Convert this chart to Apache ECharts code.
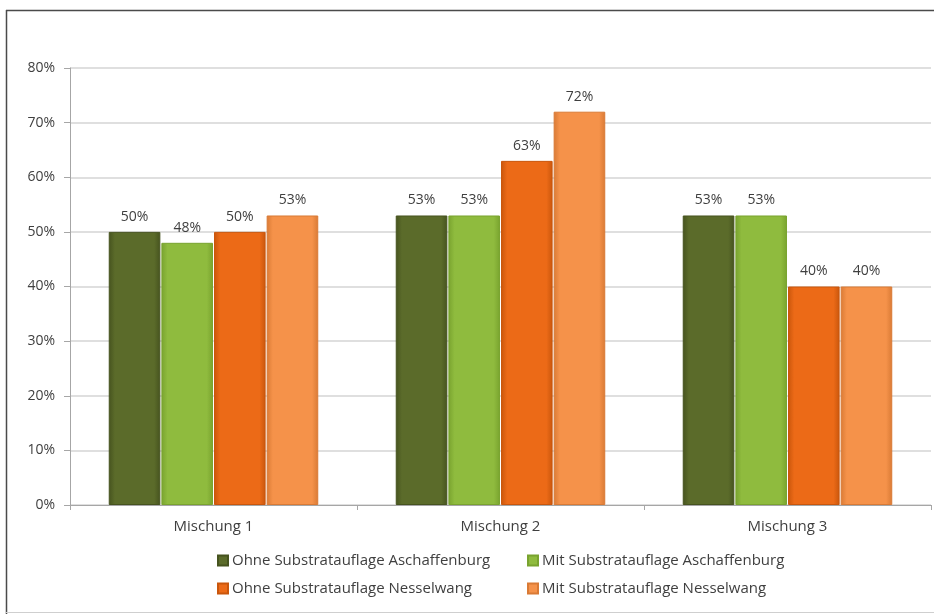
<!DOCTYPE html>
<html>
<head>
<meta charset="utf-8">
<script src="https://cdn.jsdelivr.net/npm/echarts@6/dist/echarts.min.js"></script>
<style>
html,body{margin:0;padding:0;background:#fff;}
#chart{width:934px;height:614px;}
</style>
</head>
<body>
<div id="chart"></div>
<script>
const categories = ['Mischung 1', 'Mischung 2', 'Mischung 3'];
const seriesNames = [
  'Ohne Substratauflage Aschaffenburg',
  'Mit Substratauflage Aschaffenburg',
  'Ohne Substratauflage Nesselwang',
  'Mit Substratauflage Nesselwang'
];
const ohneAschaffenburg = [0.50, 0.53, 0.53];
const mitAschaffenburg = [0.48, 0.53, 0.53];
const ohneNesselwang = [0.50, 0.63, 0.40];
const mitNesselwang = [0.53, 0.72, 0.40];
const yTicks = [0, 0.1, 0.2, 0.3, 0.4, 0.5, 0.6, 0.7, 0.8];

const seriesValues = [ohneAschaffenburg, mitAschaffenburg, ohneNesselwang, mitNesselwang];
const baseColors = ['#5b6b2a', '#8fbb3e', '#ec6a17', '#f5924a'];
const edgeColors = ['#46531f', '#79a32f', '#c9560c', '#d97a35'];
const font = 'Open Sans';

function grad(i) {
  return new echarts.graphic.LinearGradient(0, 0, 1, 0, [
    {offset: 0, color: edgeColors[i]},
    {offset: 0.12, color: baseColors[i]},
    {offset: 0.88, color: baseColors[i]},
    {offset: 1, color: edgeColors[i]}
  ]);
}

const legendPos = [
  {left: 212, top: 548},
  {left: 522, top: 548},
  {left: 212, top: 576},
  {left: 522, top: 576}
];

const chart = echarts.init(document.getElementById('chart'), null, {renderer: 'canvas'});
chart.setOption({
  backgroundColor: '#ffffff',
  animation: false,
  graphic: [
    {type: 'line', shape: {x1: 6, y1: 10.5, x2: 934, y2: 10.5}, style: {stroke: '#4a4a4a', lineWidth: 1.5}},
    {type: 'line', shape: {x1: 6.5, y1: 10, x2: 6.5, y2: 614}, style: {stroke: '#4a4a4a', lineWidth: 1.5}},
    {type: 'line', shape: {x1: 6, y1: 612.5, x2: 934, y2: 612.5}, style: {stroke: '#cfcfcf', lineWidth: 1}}
  ],
  legend: seriesNames.map((n, i) => ({
    data: [n],
    left: legendPos[i].left,
    top: legendPos[i].top,
    icon: 'rect',
    itemWidth: 10,
    itemHeight: 10,
    itemGap: 0,
    textStyle: {fontFamily: font, fontSize: 15, color: '#3f3f3f', padding: [0, 0, 0, -1]}
  })),
  grid: {left: 70, right: 3, top: 68, bottom: 109, containLabel: false},
  xAxis: {
    type: 'category',
    data: categories,
    axisLine: {lineStyle: {color: '#a6a6a6', width: 1}},
    axisTick: {show: true, length: 5, lineStyle: {color: '#a6a6a6'}},
    axisLabel: {fontFamily: font, fontSize: 15, color: '#3f3f3f', margin: 14}
  },
  yAxis: {
    type: 'value',
    min: 0,
    max: 0.8,
    interval: 0.1,
    axisLine: {show: true, lineStyle: {color: '#a6a6a6'}},
    axisTick: {show: true, length: 6, lineStyle: {color: '#a6a6a6'}},
    splitLine: {lineStyle: {color: '#d4d4d4', width: 1.5}},
    axisLabel: {
      fontFamily: font, fontSize: 14, color: '#3f3f3f', margin: 15,
      formatter: v => Math.round(v * 100) + '%'
    }
  },
  series: seriesNames.map((n, i) => ({
    name: n,
    type: 'bar',
    data: seriesValues[i],
    barGap: '2%',
    barCategoryGap: '27%',
    itemStyle: {color: grad(i), borderColor: edgeColors[i], borderWidth: 1},
    label: {
      show: true,
      position: 'top',
      distance: 8,
      fontFamily: font,
      fontSize: 14,
      color: '#3f3f3f',
      formatter: p => Math.round(p.value * 100) + '%'
    }
  }))
});
</script>
</body>
</html>
